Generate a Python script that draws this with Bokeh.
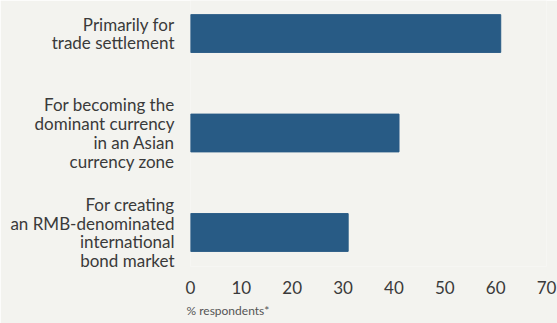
from bokeh.plotting import figure
from bokeh.models import Range1d, FixedTicker, Title
from bokeh.embed import file_html
from bokeh.resources import INLINE

categories = ["Primarily for\ntrade settlement",
              "For becoming the\ndominant currency\nin an Asian\ncurrency zone",
              "For creating\nan RMB-denominated\ninternational\nbond market"]
values = [61, 41, 31]
x_ticks = [0, 10, 20, 30, 40, 50, 60, 70]
note = "% respondents*"

BG = "#f3f3ef"
BAR = "#285b85"
TXT = "#3a3a3a"
FONT = "Lato"

pos = list(range(len(categories)))

p = figure(width=557, height=323, output_backend="svg", toolbar_location=None,
           x_range=Range1d(0, 70), y_range=Range1d(2.342, -0.332),
           min_border_left=190, min_border_right=11, min_border_top=0,
           min_border_bottom=57)
p.background_fill_color = BG
p.border_fill_color = BG
p.outline_line_color = None
p.grid.grid_line_color = None

p.hbar(y=pos, right=values, left=0, height=0.38, color=BAR)

p.yaxis.ticker = FixedTicker(ticks=pos)
p.yaxis.major_label_overrides = {i: c for i, c in enumerate(categories)}
p.yaxis.axis_line_color = None
p.yaxis.major_tick_line_color = None
p.yaxis.minor_tick_line_color = None
p.yaxis.major_tick_out = 0
p.yaxis.major_label_standoff = 16
p.yaxis.major_label_text_font = FONT
p.yaxis.major_label_text_font_size = "17px"
p.yaxis.major_label_text_line_height = 0.9
p.yaxis.major_label_text_color = TXT

p.xaxis.ticker = FixedTicker(ticks=x_ticks)
p.xaxis.axis_line_color = None
p.xaxis.major_tick_line_color = None
p.xaxis.minor_tick_line_color = None
p.xaxis.major_tick_out = 0
p.xaxis.major_label_standoff = 14
p.xaxis.major_label_text_font = FONT
p.xaxis.major_label_text_font_size = "17px"
p.xaxis.major_label_text_color = TXT

t = Title(text=note, align="left", offset=-4, standoff=8, text_font=FONT,
          text_font_size="12px", text_font_style="normal", text_color="#555555")
p.add_layout(t, "below")

open("out.html", "w").write(file_html(p, INLINE))
